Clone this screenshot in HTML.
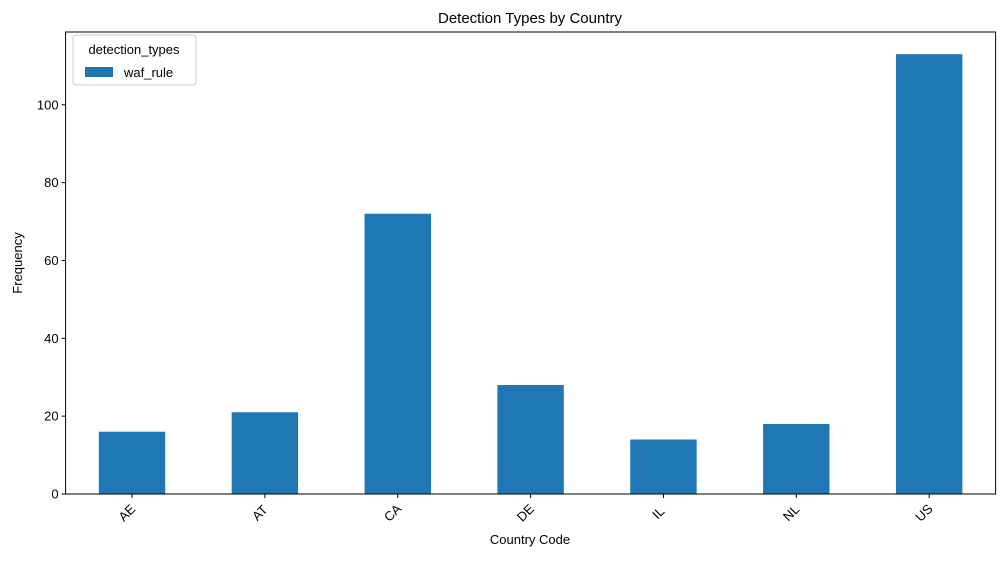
<!DOCTYPE html>
<html><head><meta charset="utf-8"><style>
body{margin:0;background:#fff;font-family:"Liberation Sans","DejaVu Sans",sans-serif;}
svg text{font-family:"Liberation Sans","DejaVu Sans",sans-serif;}
</style></head><body>
<svg id="chart" width="1005" height="557" xmlns="http://www.w3.org/2000/svg">
<rect width="1005" height="557" fill="#fff"/>
<text x="530" y="23" text-anchor="middle" font-size="15">Detection Types by Country</text>
<g id="plot"></g>
<text x="530" y="544" text-anchor="middle" font-size="13">Country Code</text>
<text transform="translate(22,263) rotate(-90)" text-anchor="middle" font-size="13">Frequency</text>
<g>
<rect x="73" y="35" width="123" height="50" rx="3" fill="#fff" stroke="#ccc"/>
<text x="134" y="54" text-anchor="middle" font-size="13">detection_types</text>
<rect x="85" y="67" width="28" height="10" fill="#1f77b4"/>
<text x="124" y="77" font-size="13">waf_rule</text>
</g>
</svg>
<script>
const categories=["AE","AT","CA","DE","IL","NL","US"];
const values=[16,21,72,28,14,18,113];
const yTicks=[0,20,40,60,80,100];
const L=65.6,R=995.6,T=32,B=494;
const yMax=118.7;
const y=v=>B-(v/yMax)*(B-T);
const step=(R-L)/categories.length;
const x=i=>L+step*(i+0.5);
const g=document.getElementById('plot');
const NS="http://www.w3.org/2000/svg";
function mk(t,a){const e=document.createElementNS(NS,t);for(const k in a)e.setAttribute(k,a[k]);g.appendChild(e);return e;}
values.forEach((v,i)=>{
 const r=mk('rect',{x:x(i)-step*0.25,y:y(v),width:step*0.5,height:B-y(v),fill:'#1f77b4'});
 
 
 mk('line',{x1:x(i),x2:x(i),y1:B,y2:B+4,stroke:'#000'});
 const lb=mk('text',{x:0,y:0,'font-size':13,'text-anchor':'middle',transform:`translate(${x(i)-2},${B+22}) rotate(-45)`});
 lb.textContent=categories[i];
 
 
});
yTicks.forEach(v=>{
 mk('line',{x1:L-4,x2:L,y1:y(v),y2:y(v),stroke:'#000'});
 const t=mk('text',{x:L-7,y:y(v)+4.5,'font-size':13,'text-anchor':'end'});
 t.textContent=v;
 
 
});
const f=mk('rect',{x:L,y:T,width:R-L,height:B-T,fill:'none',stroke:'#000','stroke-width':1});


</script>
</body></html>
